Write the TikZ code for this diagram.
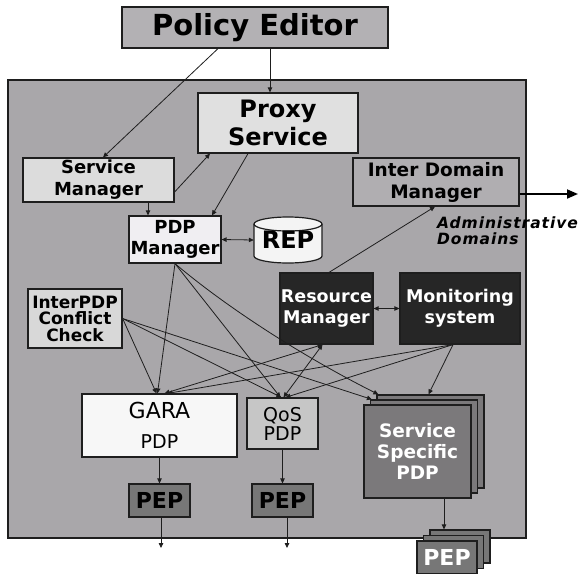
\documentclass[tikz,border=0pt]{standalone}
\usepackage{fontspec}
\setmainfont{DejaVu Sans}
\usetikzlibrary{arrows.meta,calc}

\definecolor{bggray}{HTML}{A9A7AA}
\definecolor{pegray}{HTML}{B3B1B4}
\definecolor{proxybox}{HTML}{E0E0E0}
\definecolor{smbox}{HTML}{DCDCDC}
\definecolor{idmbox}{HTML}{B0AEB1}
\definecolor{pdpbox}{HTML}{F0EEF2}
\definecolor{repbox}{HTML}{F4F4F4}
\definecolor{iccbox}{HTML}{D8D8D8}
\definecolor{darkbox}{HTML}{262626}
\definecolor{garabox}{HTML}{F7F7F7}
\definecolor{qosbox}{HTML}{C6C6C6}
\definecolor{sspbox}{HTML}{7B797B}
\definecolor{pepbox}{HTML}{777777}
\definecolor{edge}{HTML}{1E1E1E}

\begin{document}
\begin{tikzpicture}[x=1pt,y=-1pt,
  box/.style={draw=edge, line width=1.2pt, inner sep=0pt, align=center},
  conn/.style={draw=edge, line width=0.8pt, -{Triangle[length=5pt,width=4.5pt]}},
  conntwo/.style={draw=edge, line width=0.8pt, {Triangle[length=5pt,width=4.5pt]}-{Triangle[length=5pt,width=4.5pt]}},
  outarrow/.style={draw=black, line width=1.8pt, -{Triangle[length=11pt,width=9pt]}}]

\useasboundingbox[fill=white] (0,0) rectangle (588,573);

% background panel
\draw[fill=bggray, draw=edge, line width=1.2pt] (8,80) rectangle (526,538);

% nodes
\node[box, fill=pegray, minimum width=266pt, minimum height=41pt, font=\fontsize{29}{32}\selectfont\bfseries] (pe) at (255,27.5) {Policy Editor};
\node[box, fill=proxybox, minimum width=160pt, minimum height=60pt, font=\fontsize{24}{28}\selectfont\bfseries] (proxy) at (278,123) {Proxy\\Service};
\node[box, fill=smbox, minimum width=151pt, minimum height=44pt, font=\fontsize{18}{22}\selectfont\bfseries] (sm) at (98.5,180) {Service\\Manager};
\node[box, fill=idmbox, minimum width=166pt, minimum height=48pt, font=\fontsize{18.5}{22}\selectfont\bfseries] (idm) at (436,182) {Inter Domain\\Manager};
\node[box, fill=pdpbox, minimum width=92pt, minimum height=47pt, font=\fontsize{18}{21}\selectfont\bfseries] (pdpm) at (175,239.5) {PDP\\Manager};

% REP cylinder
\path[draw=edge, line width=1.2pt, fill=repbox] (254,224) -- (254,256)
  arc[start angle=180, end angle=360, x radius=34pt, y radius=7pt] -- (322,224)
  arc[start angle=0, end angle=180, x radius=34pt, y radius=7pt] -- cycle;
\draw[draw=edge, line width=1.2pt] (254,224) arc[start angle=180, end angle=360, x radius=34pt, y radius=7pt];
\node[inner sep=0pt, minimum width=68pt, minimum height=46pt, font=\fontsize{24}{26}\selectfont\bfseries] (rep) at (288,240) {REP};

\node[box, fill=iccbox, minimum width=94pt, minimum height=59pt, font=\fontsize{17}{16.5}\selectfont\bfseries] (icc) at (75,318.5) {InterPDP\\Conflict\\Check};
\node[box, fill=darkbox, text=white, minimum width=93pt, minimum height=71pt, font=\fontsize{17.5}{21}\selectfont\bfseries] (rm) at (326.5,308.5) {Resource\\Manager};
\node[box, fill=darkbox, text=white, minimum width=120pt, minimum height=71pt, font=\fontsize{17.5}{21}\selectfont\bfseries] (mon) at (460,308.5) {Monitoring\\system};

\node[box, fill=garabox, minimum width=155pt, minimum height=63pt, font=\fontsize{22}{30}\selectfont] (gara) at (159.5,425.5) {GARA\\{\fontsize{19}{30}\selectfont PDP}};
\node[box, fill=qosbox, minimum width=71pt, minimum height=51pt, font=\fontsize{19}{19}\selectfont] (qos) at (282.5,423.5) {QoS\\PDP};

\node[box, fill=sspbox, minimum width=107pt, minimum height=93pt] (sspb) at (430.5,441.5) {};
\node[box, fill=sspbox, minimum width=107pt, minimum height=93pt] (sspm) at (424,446.5) {};
\node[box, fill=sspbox, text=white, minimum width=107pt, minimum height=93pt, font=\fontsize{18.5}{21}\selectfont\bfseries] (ssp) at (417.5,451.5) {Service\\Specific\\PDP};

\node[box, fill=pepbox, minimum width=61pt, minimum height=33pt, font=\fontsize{22}{24}\selectfont\bfseries] (pep1) at (159.5,500.5) {PEP};
\node[box, fill=pepbox, minimum width=61pt, minimum height=33pt, font=\fontsize{22}{24}\selectfont\bfseries] (pep2) at (282.5,500.5) {PEP};

\node[box, fill=pepbox, minimum width=60pt, minimum height=33pt] (pepb) at (460,546.5) {};
\node[box, fill=pepbox, minimum width=60pt, minimum height=33pt] (pepm) at (453.5,552) {};
\node[box, fill=pepbox, text=white, minimum width=60pt, minimum height=33pt, font=\fontsize{22}{24}\selectfont\bfseries] (pep3) at (447,557.5) {PEP};

\node[anchor=west, inner sep=0pt, align=left, font=\fontsize{15.5}{16.5}\selectfont\bfseries\itshape\addfontfeature{LetterSpace=6}] (adm) at (437,230.5) {Administrative\\Domains};

% free ends
\coordinate (outR) at (578,194);
\coordinate (gout) at (161,548);
\coordinate (qout) at (287,548);

% upper connectors
\draw[conn] ([xshift=-37pt]pe.south) -- ([xshift=4.5pt]sm.north);
\draw[conn] ([xshift=15pt]pe.south) -- ([xshift=-8pt]proxy.north);
\draw[conn] ([yshift=-12pt]sm.east) -- ([xshift=-68pt]proxy.south);
\draw[conn] ([xshift=49.5pt]sm.south) -- ([xshift=-27pt]pdpm.north);
\draw[conn] ([xshift=-30pt]proxy.south) -- ([xshift=37pt]pdpm.north);
\draw[conntwo] (pdpm.east) -- (rep.west);
\draw[conn] ([xshift=2.5pt]rm.north) -- ([xshift=-1pt]idm.south);
\draw[conntwo] (rm.east) -- (mon.west);
\draw[outarrow] ([yshift=-12pt]idm.east) -- (outR);

% crossing connectors
\draw[conn] (pdpm.south) -- ([xshift=-2pt]gara.north);
\draw[conn] (pdpm.south) -- ([xshift=-2pt]qos.north);
\draw[conn] (pdpm.south) .. controls (225,306) and (300,355) .. ([xshift=2pt]sspb.north west);
\draw[conn] (icc.east) -- ([xshift=-3pt]gara.north);
\draw[conn] (icc.east) -- ([xshift=-1pt]qos.north);
\draw[conn] (icc.east) -- ([xshift=2pt]sspm.north west);
\draw[conntwo] ([xshift=5pt]gara.north) -- ([xshift=-4pt]rm.south);
\draw[conntwo] ([xshift=1pt]qos.north) -- ([xshift=-4pt]rm.south);
\draw[conn] ([xshift=-7pt]mon.south) -- ([xshift=8pt]gara.north);
\draw[conn] ([xshift=-7pt]mon.south) -- ([xshift=3pt]qos.north);
\draw[conn] ([xshift=-7pt]mon.south) -- ([xshift=-2pt]sspb.north);

% lower connectors
\draw[conn] (gara.south) -- (pep1.north);
\draw[conn] (qos.south) -- (pep2.north);
\draw[conn] ([xshift=1.5pt]pep1.south) -- (gout);
\draw[conn] ([xshift=4.5pt]pep2.south) -- (qout);
\draw[conn] ([xshift=26.5pt]ssp.south) -- ([xshift=-16pt]pepb.north);

\end{tikzpicture}
\end{document}
